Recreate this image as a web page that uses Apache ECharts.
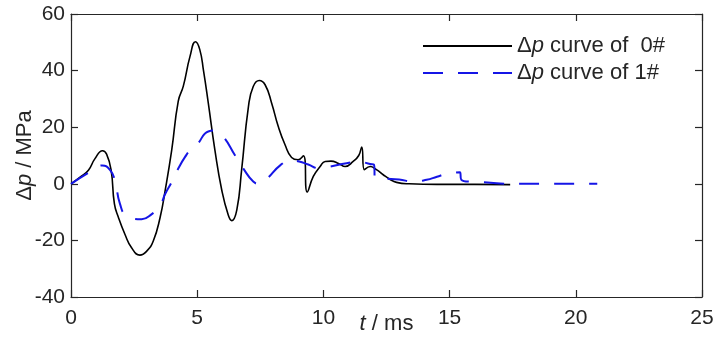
<!DOCTYPE html>
<html>
<head>
<meta charset="utf-8">
<script src="https://cdn.jsdelivr.net/npm/echarts@6/dist/echarts.min.js"></script>
<style>
html,body{margin:0;padding:0;background:#fff;}
#chart{width:728px;height:347px;}
</style>
</head>
<body>
<div id="chart"></div>
<script>
// Δp curve of 0# (t in ms, Δp in MPa)
const t0 = [0, 0.36, 0.69, 0.95, 1.25, 1.41, 1.59, 1.72, 1.88, 2.14, 2.40, 2.73, 3.0, 3.26, 3.53, 3.73, 3.99, 4.25, 4.45, 4.72, 4.93, 5.1, 5.25, 5.44, 5.70, 5.97, 6.23, 6.37, 6.57, 6.76, 7.03, 7.22, 7.46, 7.69, 7.95, 8.21, 8.48, 8.74, 9.0, 9.21, 9.36, 9.6, 9.87, 10.07, 10.3, 10.6, 10.86, 11.18, 11.4, 11.52, 11.62, 11.85, 12.1, 12.37, 12.6, 12.9, 13.4, 14.5, 16.0, 17.4];
const p0 = [0, 2.4, 4.8, 8.9, 11.7, 10.5, 4.8, -7.1, -11.9, -17.9, -22.6, -25.2, -23.8, -20.2, -11.9, -2.4, 11.9, 29.2, 34.5, 45.2, 50.2, 47.5, 40.0, 28.5, 12.0, -2.1, -11.0, -13.0, -9.2, 4.9, 27.3, 34.4, 36.5, 35.0, 28.5, 20.3, 13.8, 9.3, 8.5, 9.9, -2.9, 2.6, 6.1, 7.9, 8.0, 7.2, 6.1, 7.9, 10.0, 13.0, 5.0, 6.1, 5.0, 3.2, 1.8, 0.5, 0, -0.2, -0.2, -0.3];
// Δp curve of 1#
const t1 = [0, 0.75, 1.24, 1.55, 1.74, 1.94, 2.21, 2.80, 3.20, 3.53, 3.73, 3.99, 4.25, 4.52, 4.78, 4.98, 5.44, 5.70, 6.03, 6.49, 6.82, 7.22, 7.46, 7.72, 8.31, 8.70, 9.04, 9.40, 9.83, 10.26, 10.92, 11.45, 11.85, 12.0, 12.05, 12.5, 13.0, 13.56, 14.09, 14.5, 14.88, 15.41, 15.46, 15.9, 16.5, 17.0, 17.5, 19.0, 20.85];
const p1 = [0, 4.2, 6.5, 4.8, 1.2, -7.1, -11.3, -12.5, -10.7, -7.7, -3.6, 0.6, 5.4, 9.5, 12.5, 13.7, 18.5, 18.8, 16.7, 10.2, 5.5, 0.8, 0, 1.4, 6.7, 8.2, 7.9, 6.8, 5.5, 6.1, 7.3, 7.7, 7.0, 6.8, 2.0, 1.8, 1.5, 0.8, 1.4, 2.5, 3.5, 4.1, 1.5, 0.7, 0.5, 0.1, 0, 0, 0];
const xTicks = [0, 5, 10, 15, 20, 25];
const yTicks = [-40, -20, 0, 20, 40, 60];
const seriesNames = ['0#', '1#'];

const FONT = 'Liberation Sans';
const AX = '#262626';
const pair = (ts, ps) => ts.map((t, i) => [t, ps[i]]);
const rich = {
  a: {fontFamily: FONT, fontSize: 22, color: AX},
  i: {fontFamily: FONT, fontSize: 22, color: AX, fontStyle: 'italic'}
};
const axisCommon = (pos, show) => ({
  position: pos,
  axisLine: {show: true, onZero: false, lineStyle: {color: AX, width: 1.2}},
  axisTick: {show: true, inside: true, length: 7, lineStyle: {color: AX, width: 1.2}},
  splitLine: {show: false},
  axisLabel: {show: show, fontFamily: FONT, fontSize: 21, color: AX}
});

const chart = echarts.init(document.getElementById('chart'), null, {renderer: 'canvas'});
chart.setOption({
  animation: false,
  backgroundColor: '#fff',
  grid: {left: 71, top: 14, right: 26, bottom: 50, containLabel: false, outerBoundsMode: 'none'},
  xAxis: [
    Object.assign(axisCommon('bottom', true), {
      type: 'value', min: xTicks[0], max: xTicks[xTicks.length - 1], interval: 5,
      name: '{i|t}{a| / ms}', nameLocation: 'middle', nameGap: 16, nameMoveOverlap: false,
      nameTextStyle: {rich: rich},
      axisLabel: {show: true, fontFamily: FONT, fontSize: 21, color: AX, margin: 11}
    }),
    Object.assign(axisCommon('top', false), {
      type: 'value', min: xTicks[0], max: xTicks[xTicks.length - 1], interval: 5
    })
  ],
  yAxis: [
    Object.assign(axisCommon('left', true), {
      type: 'value', min: yTicks[0], max: yTicks[yTicks.length - 1], interval: 20,
      name: '{a|Δ}{i|p}{a| / MPa}', nameLocation: 'middle', nameGap: 35, nameMoveOverlap: false,
      nameTextStyle: {rich: rich},
      axisLabel: {show: true, fontFamily: FONT, fontSize: 21, color: AX, margin: 6}
    }),
    Object.assign(axisCommon('right', false), {
      type: 'value', min: yTicks[0], max: yTicks[yTicks.length - 1], interval: 20
    })
  ],
  legend: {
    orient: 'vertical',
    left: 417, top: 30, padding: 5,
    itemWidth: 89, itemHeight: 14, itemGap: 5,
    itemStyle: {opacity: 0},
    textStyle: {rich: rich},
    formatter: function (name) { return '{a|Δ}{i|p}{a| curve of ' + (name === '0#' ? ' 0#' : '1#') + '}'; },
    data: [
      {name: seriesNames[0]},
      {name: seriesNames[1]}
    ]
  },
  series: [
    {
      name: seriesNames[0], type: 'line', data: pair(t0, p0),
      symbol: 'none', smooth: 0.5,
      lineStyle: {color: '#000', width: 1.6},
      itemStyle: {color: '#000'}
    },
    {
      name: seriesNames[1], type: 'line', data: pair(t1, p1),
      symbol: 'none', smooth: 0.5,
      lineStyle: {color: '#1515e6', width: 2, type: [20, 15]},
      itemStyle: {color: '#1515e6'}
    }
  ]
});
</script>
</body>
</html>
